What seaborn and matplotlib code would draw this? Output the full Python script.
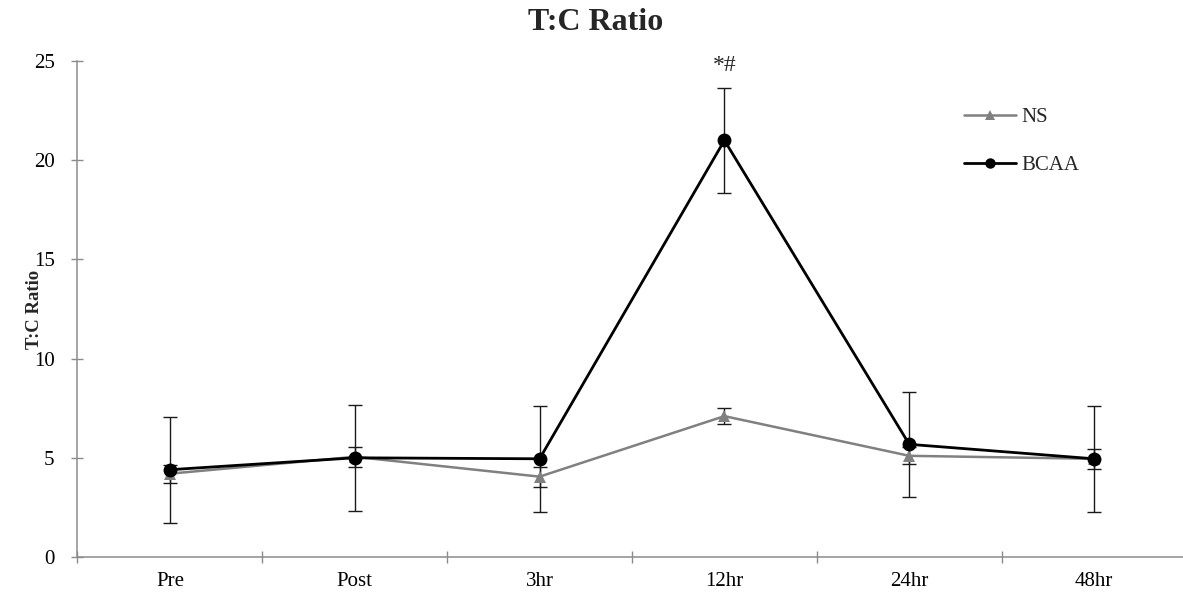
import matplotlib
matplotlib.use("Agg")
import matplotlib.pyplot as plt
import seaborn as sns
import pandas as pd
import numpy as np

categories = ["Pre", "Post", "3hr", "12hr", "24hr", "48hr"]
ns_values = [4.2, 5.05, 4.05, 7.1, 5.1, 4.95]
ns_err = [0.45, 0.5, 0.5, 0.42, 0.42, 0.5]
bcaa_values = [4.4, 5.0, 4.95, 21.0, 5.68, 4.95]
bcaa_err = [2.67, 2.67, 2.68, 2.66, 2.66, 2.67]
yticks = [0, 5, 10, 15, 20, 25]
annotation = "*#"

sns.set_theme(style="white")
plt.rcParams["font.family"] = ["Liberation Serif", "DejaVu Serif"]

fig = plt.figure(figsize=(11.83, 5.96), dpi=100)
ax = fig.add_axes([77.5 / 1183, (596 - 557) / 596, 1109 / 1183, (557 - 61) / 596])

pos = list(range(len(categories)))
df = pd.DataFrame({
    "pos": pos * 2,
    "value": ns_values + bcaa_values,
    "series": ["NS"] * len(categories) + ["BCAA"] * len(categories),
})

ax.errorbar(pos, ns_values, yerr=ns_err, fmt="none", ecolor="#1a1a1a",
            elinewidth=1.0, capsize=5, capthick=1.0, zorder=2)
ax.errorbar(pos, bcaa_values, yerr=bcaa_err, fmt="none", ecolor="#1a1a1a",
            elinewidth=1.0, capsize=5, capthick=1.0, zorder=2)

sns.lineplot(data=df[df.series == "NS"], x="pos", y="value", ax=ax,
             color="#808080", linewidth=1.8, marker="^", markersize=9,
             markeredgewidth=0, label="NS", zorder=3)
sns.lineplot(data=df[df.series == "BCAA"], x="pos", y="value", ax=ax,
             color="black", linewidth=2.0, marker="o", markersize=10,
             markeredgewidth=0, label="BCAA", zorder=4)

ax.set_xlim(-0.5, 5.5)
ax.set_ylim(0, 25)
ax.set_yticks(yticks)
ax.set_xticks(pos)
ax.set_xticklabels(categories)
ax.set_xticks([p + 0.5 for p in pos[:-1]] + [-0.5], minor=True)

for s in ["top", "right"]:
    ax.spines[s].set_visible(False)
for s in ["left", "bottom"]:
    ax.spines[s].set_color("#8c8c8c")
    ax.spines[s].set_linewidth(1.1)

ax.tick_params(axis="y", which="major", direction="inout", length=9, width=1.0,
               color="#8c8c8c", labelsize=15, pad=12, left=True, labelcolor="black")
ax.tick_params(axis="x", which="major", length=0, labelsize=15, pad=11, labelcolor="black")
ax.tick_params(axis="x", which="minor", direction="inout", length=9, width=1.0,
               color="#8c8c8c", bottom=True)

ax.set_xlabel("")
ax.set_ylabel("T:C Ratio", fontsize=13.5, fontweight="bold")
ax.yaxis.set_label_coords(-0.031, 0.5)
fig.suptitle("T:C Ratio", fontsize=23, fontweight="bold", x=596 / 1183, y=0.986)

ax.text(3, bcaa_values[3] + bcaa_err[3] + 0.6, annotation, ha="center", va="bottom", fontsize=17)

leg = ax.legend(loc="upper left", bbox_to_anchor=((964 - 77.5) / 1109, 0.9065),
                frameon=False, fontsize=15, handlelength=2.5, handletextpad=0.25,
                labelspacing=1.38, borderaxespad=0, borderpad=0, markerscale=0.75)

fig.savefig("out.png", dpi=100)
